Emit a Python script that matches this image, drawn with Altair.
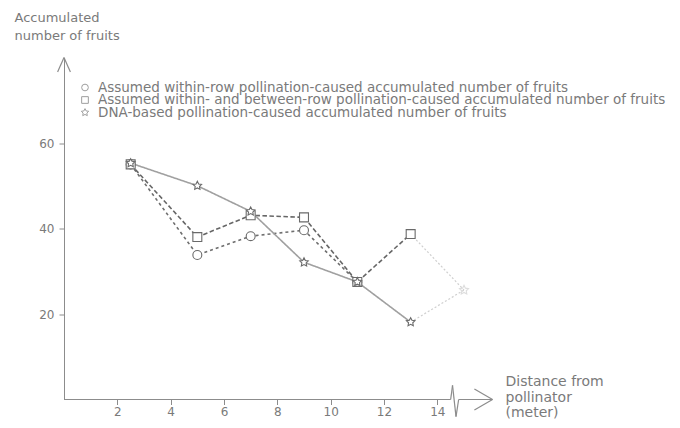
import altair as alt
import pandas as pd

# ---- data ----
series_names = [
    "Assumed within-row pollination-caused accumulated number of fruits",
    "Assumed within- and between-row pollination-caused accumulated number of fruits",
    "DNA-based pollination-caused accumulated number of fruits",
]
STAR = ("M0,-1L0.294,-0.405L0.951,-0.309L0.476,0.155L0.588,0.809L0,0.5"
        "L-0.588,0.809L-0.476,0.155L-0.951,-0.309L-0.294,-0.405Z")
series_shapes = ["circle", "square", STAR]

distance = [2.5, 5, 7, 9, 11, 13]
within_row = [55.0, 33.8, 38.2, 39.6, 27.5, None]
within_between_row = [55.0, 38.0, 43.1, 42.6, 27.5, 38.7]
dna_based = [55.3, 50.0, 44.0, 32.1, 27.5, 18.1]

# faint continuation beyond the axis break
far_distance = 15
far_value = 25.6

x_ticks = [2, 4, 6, 8, 10, 12, 14]
y_ticks = [20, 40, 60]

# ---- tables ----
rows = []
for name, vals in zip(series_names, [within_row, within_between_row, dna_based]):
    for d, v in zip(distance, vals):
        if v is not None:
            rows.append({"series": name, "distance": d, "fruits": v})
df = pd.DataFrame(rows)

far_rows = []
for name, vals in zip(series_names[1:], [within_between_row, dna_based]):
    far_rows.append({"series": name, "distance": distance[-1], "fruits": vals[-1]})
    far_rows.append({"series": name, "distance": far_distance, "fruits": far_value})
df_far = pd.DataFrame(far_rows)
df_far_pt = pd.DataFrame([{"distance": far_distance, "fruits": far_value}])

# axis decoration: x-axis line with break and arrow heads
deco = pd.DataFrame({
    "distance":  [0, 14.5, 14.57, 14.7, 14.8, 15.39, 15.39, -0.24, 0.24],
    "distance2": [14.5, 14.57, 14.7, 14.8, 16.07, 16.07, 16.07, 0, 0],
    "fruits":  [0, 0, 3.3, -4.0, 0, 2.45, -2.45, 76.6, 76.6],
    "fruits2": [0, 3.3, -4.0, 0, 0, 0, 0, 80, 80],
})

FONT = "DejaVu Sans"
AX = "#8c8c8c"
TXT = "#7a7a7a"

xscale = alt.Scale(domain=[0, 16.5], nice=False, zero=False)
yscale = alt.Scale(domain=[0, 80], nice=False)

xaxis = alt.Axis(orient="bottom", values=x_ticks, domain=False, grid=False, tickSize=5, tickColor=AX,
                 labelColor=TXT, labelFontSize=12, labelFont=FONT, labelPadding=2,
                 title=["Distance from", "pollinator", "(meter)"], titleX=441, titleY=-25,
                 titleAlign="left", titleBaseline="top", titleAngle=0, titleFont=FONT,
                 titleFontSize=14, titleFontWeight="normal", titleColor=TXT, titleLineHeight=15.5)
yaxis = alt.Axis(orient="left", values=y_ticks, domain=True, domainColor=AX, grid=False, tickSize=5,
                 tickColor=AX, labelColor=TXT, labelFontSize=12, labelFont=FONT, labelPadding=5,
                 title=["Accumulated", "number of fruits"], titleX=-50, titleY=-46,
                 titleAlign="left", titleBaseline="top", titleAngle=0, titleFont=FONT,
                 titleFontSize=13, titleFontWeight="normal", titleColor=TXT, titleLineHeight=18)

X = alt.X("distance:Q", scale=xscale, axis=xaxis)
Y = alt.Y("fruits:Q", scale=yscale, axis=yaxis)

lines = alt.Chart(df).mark_line().encode(
    x=X, y=Y,
    color=alt.Color("series:N", scale=alt.Scale(domain=series_names, range=["#6e6e6e", "#666666", "#a0a0a0"]), legend=None),
    strokeDash=alt.StrokeDash("series:N", scale=alt.Scale(domain=series_names, range=[[3, 3], [4.5, 2.5], [1, 0]]), legend=None),
    strokeWidth=alt.StrokeWidth("series:N", scale=alt.Scale(domain=series_names, range=[1.6, 1.6, 1.1]), legend=None),
)

points = alt.Chart(df).mark_point(filled=False, size=80, strokeWidth=1.1, color="#6a6a6a", fill="white", fillOpacity=1).encode(
    x=X, y=Y,
    shape=alt.Shape("series:N", scale=alt.Scale(domain=series_names, range=series_shapes), legend=None),
)

far_lines = alt.Chart(df_far).mark_line(strokeWidth=1.2, color="#cfcfcf", strokeDash=[2, 2]).encode(
    x=X, y=Y, detail="series:N")
far_point = alt.Chart(df_far_pt).mark_point(shape=STAR, filled=False, size=90, color="#d0d0d0", strokeWidth=1.1).encode(
    x=X, y=Y)

decor = alt.Chart(deco).mark_rule(color=AX, strokeWidth=1.2).encode(
    x=X, x2="distance2:Q", y=Y, y2="fruits2:Q")

# key (legend) drawn as symbols + labels in the upper-left of the plot
key_layers = []
for i, (name, shp) in enumerate(zip(series_names, series_shapes)):
    kdf = pd.DataFrame({"label": [name]})
    ypos = 30 + i * 12.5
    key_layers.append(alt.Chart(kdf).mark_point(shape=shp, filled=False, size=45 if shp != STAR else 60,
                                                 color="#777", strokeWidth=1).encode(
        x=alt.value(21), y=alt.value(ypos)))
    key_layers.append(alt.Chart(kdf).mark_text(align="left", baseline="middle", font=FONT, fontSize=13.5,
                                                color=TXT).encode(
        text="label:N", x=alt.value(34), y=alt.value(ypos)))

chart = alt.layer(decor, far_lines, far_point, lines, points, *key_layers).properties(
    width=440, height=342,
    background="white",
    autosize=alt.AutoSizeParams(type="none"),
    padding={"left": 56, "top": 49.5, "right": 168, "bottom": 20.5},
).configure_view(stroke=None)

chart.save("out.html", embed_options={"renderer": "svg", "actions": False})
